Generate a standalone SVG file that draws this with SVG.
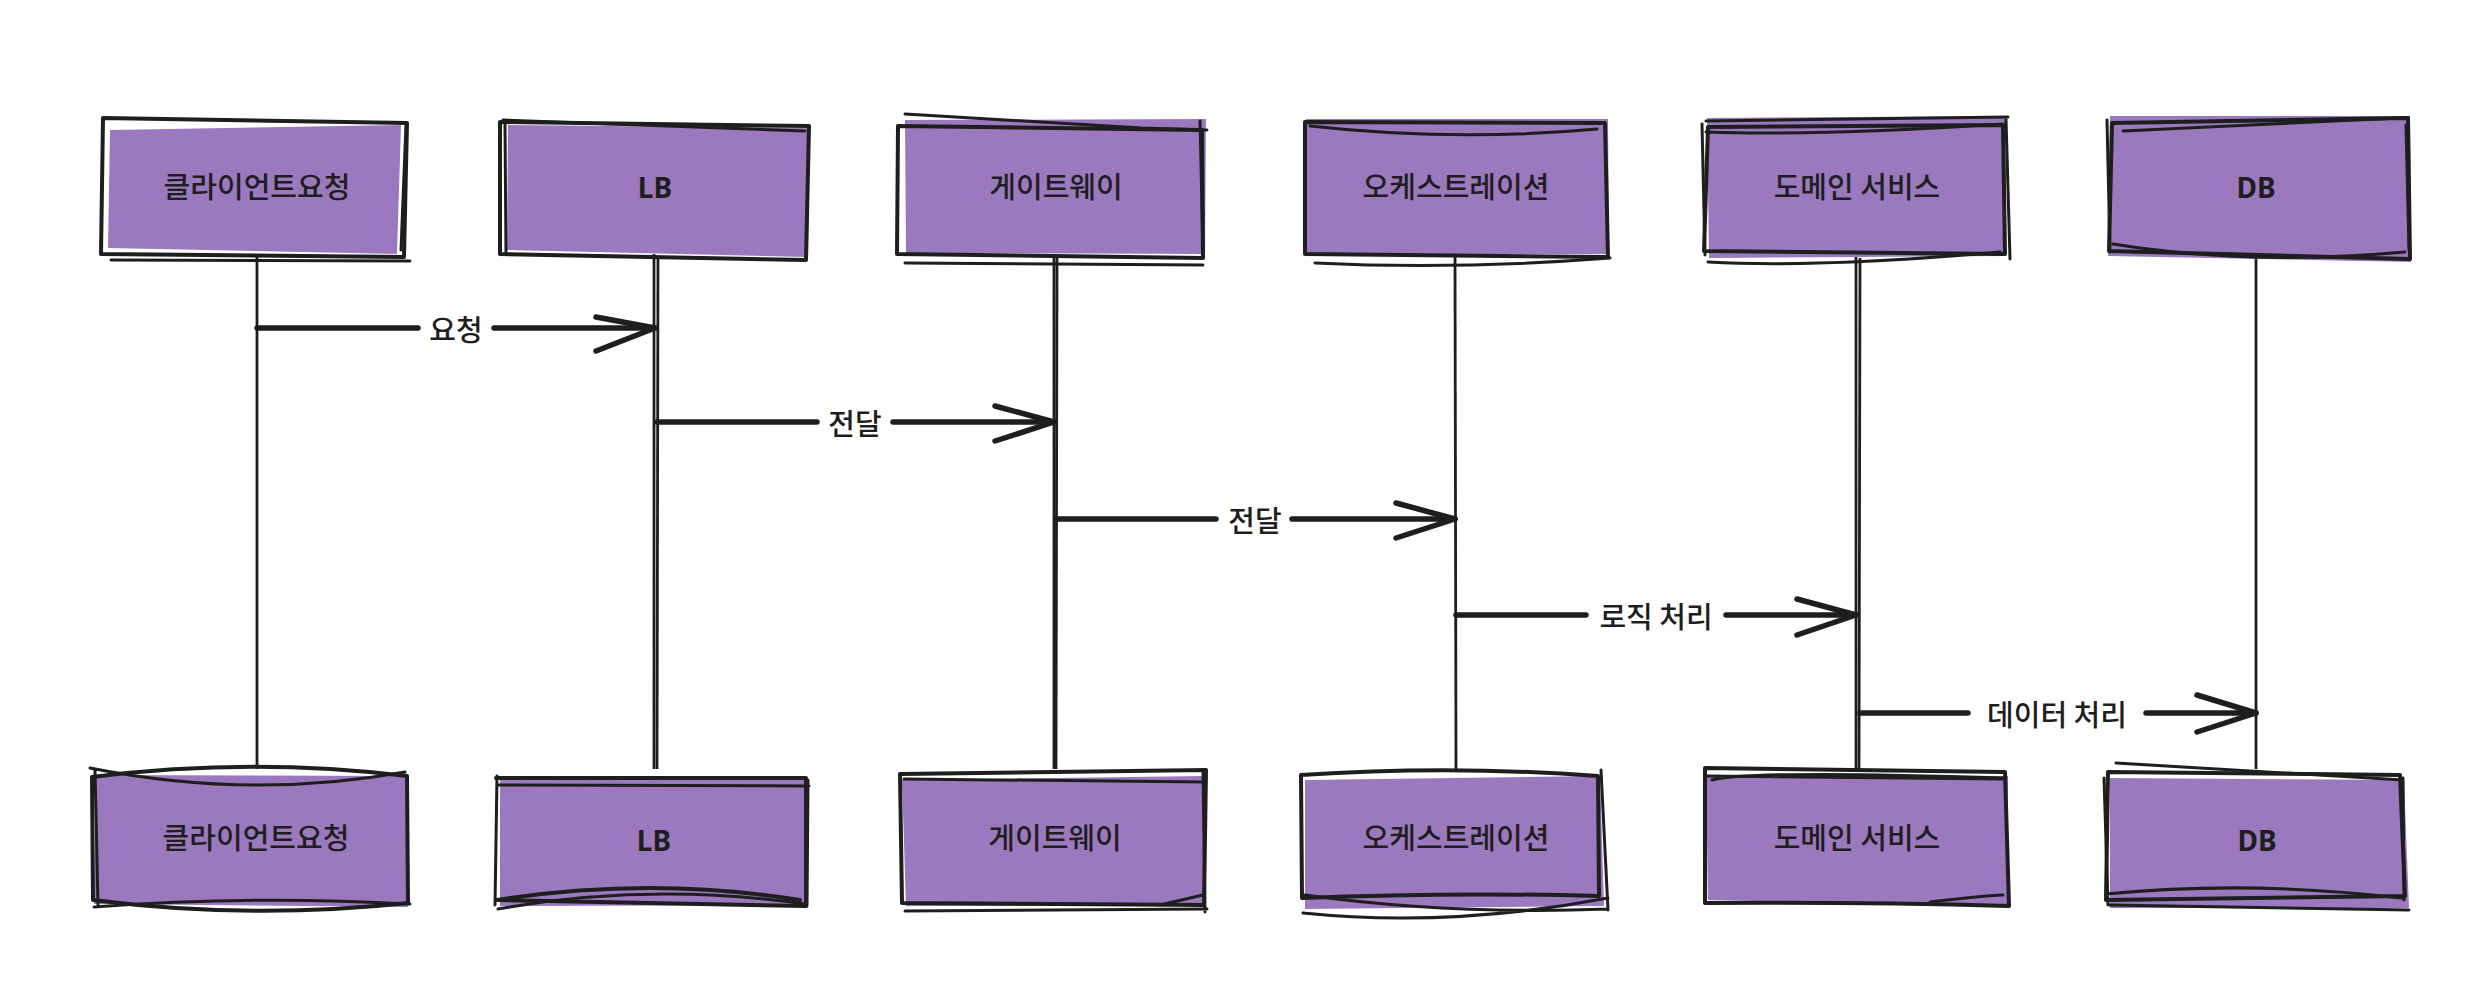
<svg xmlns="http://www.w3.org/2000/svg" width="2486" height="990" viewBox="0 0 2486 990">
<defs>
<style>
.fill{fill:#9b79bf;stroke:none}
.sk{fill:none;stroke:#1e1e1e;stroke-width:4;stroke-linecap:round;stroke-linejoin:round}
.sk2{fill:none;stroke:#1e1e1e;stroke-width:3;stroke-linecap:round;stroke-linejoin:round}
.life{fill:none;stroke:#1e1e1e;stroke-width:2.8}
.arr{fill:none;stroke:#1e1e1e;stroke-width:5.5;stroke-linecap:round;stroke-linejoin:round}
.lbl{font-family:"Noto Sans CJK KR","Noto Sans",sans-serif;font-size:29px;font-weight:500;fill:#1e1e1e;text-anchor:middle;dominant-baseline:central}
.lat{font-family:"Noto Sans","Noto Sans CJK KR",sans-serif;font-weight:bold;font-size:28px}
</style>
</defs>
<rect width="2486" height="990" fill="#ffffff"/>
<g id="connectors">
<g id="lifelines">
<line class="life" x1="257" y1="254" x2="257" y2="769"/>
<line class="life" x1="654" y1="254" x2="654" y2="769"/>
<line class="life" x1="658" y1="258" x2="657" y2="769" stroke-width="1.5"/>
<line class="life" x1="1054" y1="254" x2="1054" y2="769"/>
<line class="life" x1="1057" y1="258" x2="1056" y2="769" stroke-width="1.5"/>
<line class="life" x1="1455" y1="254" x2="1456" y2="769"/>
<line class="life" x1="1856" y1="254" x2="1856" y2="769"/>
<line class="life" x1="1860" y1="258" x2="1859" y2="769" stroke-width="1.5"/>
<line class="life" x1="2256" y1="254" x2="2256" y2="769"/>
</g>
<g id="msg1">
<path class="arr" d="M257 328 H418 M494 328 H655"/>
<path class="arr" d="M596 317 L655 328 L596 351"/>
<text class="lbl" x="456" y="328">요청</text>
</g>
<g id="msg2">
<path class="arr" d="M657 422 H817 M893 422 H1054" stroke-width="4.5"/>
<path class="arr" d="M995 406 L1054 422 L995 441" stroke-width="4.5"/>
<text class="lbl" x="855" y="422">전달</text>
</g>
<g id="msg3">
<path class="arr" d="M1056 519 H1216 M1292 519 H1455"/>
<path class="arr" d="M1396 503 L1455 519 L1396 538"/>
<text class="lbl" x="1255" y="519">전달</text>
</g>
<g id="msg4">
<path class="arr" d="M1456 615 H1586 M1726 615 H1856"/>
<path class="arr" d="M1797 599 L1856 615 L1797 635"/>
<text class="lbl" x="1656" y="615">로직 처리</text>
</g>
<g id="msg5">
<path class="arr" d="M1860 713 H1968" stroke-width="3"/>
<path class="arr" d="M2146 713 H2256"/>
<path class="arr" d="M2197 695 L2256 713 L2197 732"/>
<text class="lbl" x="2057" y="713">데이터 처리</text>
</g>
</g>

<g id="node-client-top">
<path class="fill" d="M110 130 L401 125 L397 254 L108 248 Z"/>
<path class="sk" d="M103 118 L407 123 L404 257 L101 254 Z"/>
<path class="sk2" d="M111 260 L410 261 M406 124 L401 250"/>
<text class="lbl" x="257" y="185">클라이언트요청</text>
</g>
<g id="node-lb-top">
<path class="fill" d="M508 125 L809 128 L808 257 L507 250 Z"/>
<path class="sk" d="M500 122 L809 126 L806 260 L500 254 Z"/>
<path class="sk2" d="M503 120 L805 131 M505 125 L506 254"/>
<text class="lbl lat" x="655" y="187">LB</text>
</g>
<g id="node-gw-top">
<path class="fill" d="M905 120 L1206 119 L1205 254 L906 253 Z"/>
<path class="sk" d="M898 126 L1202 130 L1203 258 L897 254 Z"/>
<path class="sk2" d="M905 114 L1142 128 L1207 130 M905 263 L1203 265 M1200 121 L1203 250"/>
<text class="lbl" x="1056" y="185">게이트웨이</text>
</g>
<g id="node-orch-top">
<path class="fill" d="M1306 119 L1608 119 L1609 254 L1306 254 Z"/>
<path class="sk" d="M1305 122 L1605 123 L1608 257 L1305 254 Z"/>
<path class="sk2" d="M1310 126 Q1455 142 1597 129 M1315 263 Q1455 270 1610 258"/>
<text class="lbl" x="1456" y="185">오케스트레이션</text>
</g>
<g id="node-ds-top">
<path class="fill" d="M1707 118 L2005 116 L2006 256 L1709 258 Z"/>
<path class="sk" d="M1708 127 L2003 125 L2005 254 L1704 251 Z"/>
<path class="sk2" d="M1706 121 L2008 117 M1706 132 Q1820 136 2003 124 M1708 262 Q1820 268 2000 252 M1702 124 L1705 255 M2006 119 L2010 259"/>
<text class="lbl" x="1857" y="185">도메인 서비스</text>
</g>
<g id="node-db-top">
<path class="fill" d="M2110 116 L2410 116 L2411 262 L2108 256 Z"/>
<path class="sk" d="M2112 123 L2408 118 L2410 259 L2109 251 Z"/>
<path class="sk2" d="M2123 131 L2400 118 M2113 244 Q2250 266 2405 252 M2107 120 L2110 252 M2406 125 L2409 250"/>
<text class="lbl lat" x="2256" y="187">DB</text>
</g>

<g id="node-client-bottom">
<path class="fill" d="M96 775 L408 776 L408 907 L94 904 Z"/>
<path class="sk" d="M92 777 Q250 757 407 776 L408 903 Q250 920 93 900 Z"/>
<path class="sk2" d="M90 768 Q250 800 405 772 M94 907 Q250 895 410 904 M95 770 L98 905"/>
<text class="lbl" x="256" y="836">클라이언트요청</text>
</g>
<g id="node-lb-bottom">
<path class="fill" d="M500 778 L806 780 L806 905 L500 906 Z"/>
<path class="sk" d="M496 778 L806 778 L806 906 L497 900 Q650 876 800 900"/>
<path class="sk2" d="M497 785 L809 786 M498 909 Q650 882 805 904 M497 776 L495 905 M808 780 L807 906"/>
<text class="lbl lat" x="654" y="840">LB</text>
</g>
<g id="node-gw-bottom">
<path class="fill" d="M902 780 L1204 776 L1206 906 L906 906 Z"/>
<path class="sk" d="M900 774 L1206 770 L1204 905 L902 903 Z"/>
<path class="sk2" d="M904 779 L1205 782 M905 911 L1207 909 M1203 770 L1205 912 M1203 895 L1160 905"/>
<text class="lbl" x="1055" y="836">게이트웨이</text>
</g>
<g id="node-orch-bottom">
<path class="fill" d="M1305 780 L1600 776 L1604 906 L1305 909 Z"/>
<path class="sk" d="M1301 775 Q1450 765 1598 776 L1599 896 Q1450 892 1302 898 Z"/>
<path class="sk2" d="M1303 913 Q1450 928 1608 898 M1305 895 Q1450 915 1608 909 M1601 770 L1608 910"/>
<text class="lbl" x="1456" y="836">오케스트레이션</text>
</g>
<g id="node-ds-bottom">
<path class="fill" d="M1706 775 L2008 776 L2008 906 L1708 900 Z"/>
<path class="sk" d="M1705 768 L2005 772 L2009 906 Q1860 902 1705 903 Z"/>
<path class="sk2" d="M1706 776 L2003 779 M1712 780 Q1750 770 2004 778 M1930 902 Q1990 895 2003 895"/>
<text class="lbl" x="1857" y="836">도메인 서비스</text>
</g>
<g id="node-db-bottom">
<path class="fill" d="M2110 778 L2404 780 L2409 908 L2110 908 Z"/>
<path class="sk" d="M2108 772 L2400 775 L2405 896 L2106 900 Z"/>
<path class="sk2" d="M2116 763 L2403 780 M2106 894 Q2250 880 2401 898 M2110 905 L2409 910 M2104 778 L2108 905 M2403 778 L2404 900"/>
<text class="lbl lat" x="2257" y="840">DB</text>
</g>
</svg>
